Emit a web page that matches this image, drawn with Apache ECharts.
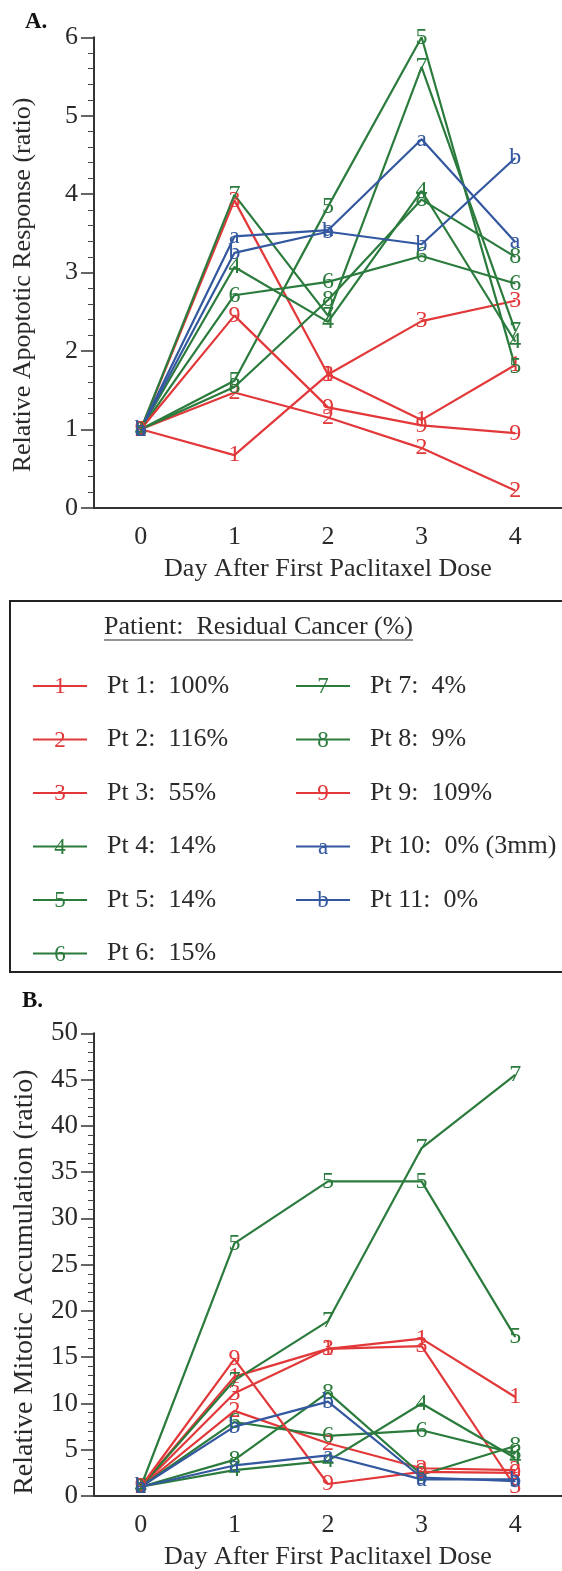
<!DOCTYPE html>
<html>
<head>
<meta charset="utf-8">
<script src="https://cdn.jsdelivr.net/npm/echarts@6/dist/echarts.min.js"></script>
<style>
html,body{margin:0;padding:0;background:#fff;}
#c{width:562px;height:1571px;}
</style>
</head>
<body>
<div id="c"></div>
<script>
// ---- data ----
const days = ['0', '1', '2', '3', '4'];
const patientIds = ['1', '2', '3', '4', '5', '6', '7', '8', '9', 'a', 'b'];
const patientLabels = ['Pt 1:  100%', 'Pt 2:  116%', 'Pt 3:  55%', 'Pt 4:  14%', 'Pt 5:  14%', 'Pt 6:  15%',
  'Pt 7:  4%', 'Pt 8:  9%', 'Pt 9:  109%', 'Pt 10:  0% (3mm)', 'Pt 11:  0%'];
const patientGroup = ['red', 'red', 'red', 'green', 'green', 'green', 'green', 'green', 'red', 'blue', 'blue'];

// A. Relative apoptotic response (ratio)
const apoPt1 = [1, 0.67, 1.70, 1.12, 1.82];
const apoPt2 = [1, 1.47, 1.15, 0.76, 0.22];
const apoPt3 = [1, 3.92, 1.70, 2.38, 2.64];
const apoPt4 = [1, 3.07, 2.37, 4.04, 2.12];
const apoPt5 = [1, 1.62, 3.84, 6.00, 1.80];
const apoPt6 = [1, 2.71, 2.88, 3.21, 2.86];
const apoPt7 = [1, 3.99, 2.45, 5.62, 2.26];
const apoPt8 = [1, 1.54, 2.65, 3.93, 3.20];
const apoPt9 = [1, 2.45, 1.28, 1.05, 0.95];
const apoPt10 = [1, 3.46, 3.54, 4.70, 3.39];
const apoPt11 = [1, 3.25, 3.52, 3.36, 4.46];

// B. Relative mitotic accumulation (ratio)
const mitPt1 = [1, 12.9, 15.9, 17.0, 10.7];
const mitPt2 = [1, 9.2, 5.7, 3.0, 2.8];
const mitPt3 = [1, 11.1, 15.9, 16.2, 1.0];
const mitPt4 = [1, 2.8, 3.8, 10.0, 4.1];
const mitPt5 = [1, 27.3, 34.0, 34.0, 17.2];
const mitPt6 = [1, 8.0, 6.5, 7.1, 4.6];
const mitPt7 = [1, 12.5, 18.9, 37.6, 45.5];
const mitPt8 = [1, 3.9, 11.2, 2.3, 5.4];
const mitPt9 = [1, 14.8, 1.3, 2.6, 2.5];
const mitPt10 = [1, 3.3, 4.4, 1.8, 1.8];
const mitPt11 = [1, 7.5, 10.2, 2.0, 1.6];

const apoData = [apoPt1, apoPt2, apoPt3, apoPt4, apoPt5, apoPt6, apoPt7, apoPt8, apoPt9, apoPt10, apoPt11];
const mitData = [mitPt1, mitPt2, mitPt3, mitPt4, mitPt5, mitPt6, mitPt7, mitPt8, mitPt9, mitPt10, mitPt11];

// ---- style ----
const COLORS = {red: '#e2383a', green: '#2b7b3d', blue: '#33589f'};
const FONT = 'Liberation Serif';
const TXT = '#2a2a2a';

function makeSeries(dataArr, axisIdx) {
  return dataArr.map((d, i) => {
    const col = COLORS[patientGroup[i]];
    return {
      type: 'line',
      name: patientLabels[i],
      xAxisIndex: axisIdx, yAxisIndex: axisIdx,
      data: d,
      symbol: 'circle', symbolSize: 1,
      showAllSymbol: true,
      animation: false,
      silent: true,
      lineStyle: {color: col, width: 2.2},
      itemStyle: {color: col},
      label: {
        show: true, position: 'inside',
        formatter: patientIds[i],
        color: col, fontFamily: FONT, fontSize: 24
      },
      labelLayout: {hideOverlap: false},
      z: 2
    };
  });
}

function xAxisDef(gridIndex, tickFont) {
  return {
    type: 'category', gridIndex, data: days, boundaryGap: true,
    axisLine: {lineStyle: {color: '#333', width: 2}},
    axisTick: {alignWithLabel: true, length: 11, lineStyle: {color: '#333', width: 1.5}},
    axisLabel: {color: TXT, fontFamily: FONT, fontSize: tickFont, margin: 16},
    name: 'Day After First Paclitaxel Dose', nameLocation: 'middle', nameGap: 48,
    nameTextStyle: {color: TXT, fontFamily: FONT, fontSize: 26},
    splitLine: {show: false}
  };
}
function yAxisDef(gridIndex, max, interval, name, tickFont, nameFont, nameGap, shift) {
  return {
    type: 'value', gridIndex, min: 0, max, interval,
    axisLine: {show: true, lineStyle: {color: '#333', width: 2}},
    axisTick: {show: true, length: 13, lineStyle: {color: '#333', width: 1.5}},
    minorTick: {show: true, splitNumber: 5, length: 6, lineStyle: {color: '#444', width: 1}},
    axisLabel: {color: TXT, fontFamily: FONT, fontSize: tickFont, margin: 16},
    splitLine: {show: false},
    name, nameLocation: 'middle', nameGap,
    nameTextStyle: {color: TXT, fontFamily: FONT, fontSize: nameFont, padding: [0, shift, 0, 0]}
  };
}

// ---- legend (graphic) ----
const graphics = [];
graphics.push({type: 'text', left: 25, top: 11, style: {text: 'A.', font: 'bold 23px ' + FONT, fill: '#111'}});
graphics.push({type: 'text', left: 22, top: 990, style: {text: 'B.', font: 'bold 23px ' + FONT, fill: '#111'}});
graphics.push({type: 'rect', shape: {x: 10, y: 601, width: 570, height: 371},
  style: {fill: 'none', stroke: '#222', lineWidth: 2}});
const legendTitle = 'Patient:  Residual Cancer (%)';
const mctx = document.createElement('canvas').getContext('2d');
mctx.font = '26px ' + FONT;
const titleW = mctx.measureText(legendTitle).width;
graphics.push({type: 'text', x: 104, y: 627, style: {text: legendTitle, font: '26px ' + FONT, fill: TXT, textVerticalAlign: 'middle'}});
graphics.push({type: 'line', shape: {x1: 104, y1: 640, x2: 104 + titleW, y2: 640}, style: {stroke: TXT, lineWidth: 1.2}});
const rowY0 = 686, rowGap = 53.5;
patientLabels.forEach((lab, i) => {
  const col = i < 6 ? 0 : 1;
  const row = i < 6 ? i : i - 6;
  const y = rowY0 + row * rowGap;
  const lx = col === 0 ? 33 : 296;
  const c = COLORS[patientGroup[i]];
  graphics.push({type: 'line', shape: {x1: lx, y1: y, x2: lx + 54, y2: y}, style: {stroke: c, lineWidth: 2}});
  graphics.push({type: 'text', x: lx + 27, y: y + 1, style: {text: patientIds[i], font: '23px ' + FONT, fill: c, textAlign: 'center', textVerticalAlign: 'middle'}});
  graphics.push({type: 'text', x: lx + 74, y: y, style: {text: lab, font: '26px ' + FONT, fill: TXT, textVerticalAlign: 'middle'}});
});

const option = {
  backgroundColor: '#fff',
  animation: false,
  textStyle: {fontFamily: FONT},
  grid: [
    {left: 94, top: 37.3, width: 470, height: 470.4},
    {left: 94, top: 1033.3, width: 470, height: 466.7}
  ],
  xAxis: [xAxisDef(0, 26), xAxisDef(1, 26)],
  yAxis: [
    yAxisDef(0, 6, 1, 'Relative Apoptotic Response (ratio)', 26, 26, 58, 25),
    yAxisDef(1, 50, 5, 'Relative Mitotic Accumulation (ratio)', 27, 28, 55, 35)
  ],
  series: makeSeries(apoData, 0).concat(makeSeries(mitData, 1)),
  graphic: graphics
};

const chart = echarts.init(document.getElementById('c'), null, {renderer: 'canvas', width: 562, height: 1571});
chart.setOption(option);
</script>
</body>
</html>
